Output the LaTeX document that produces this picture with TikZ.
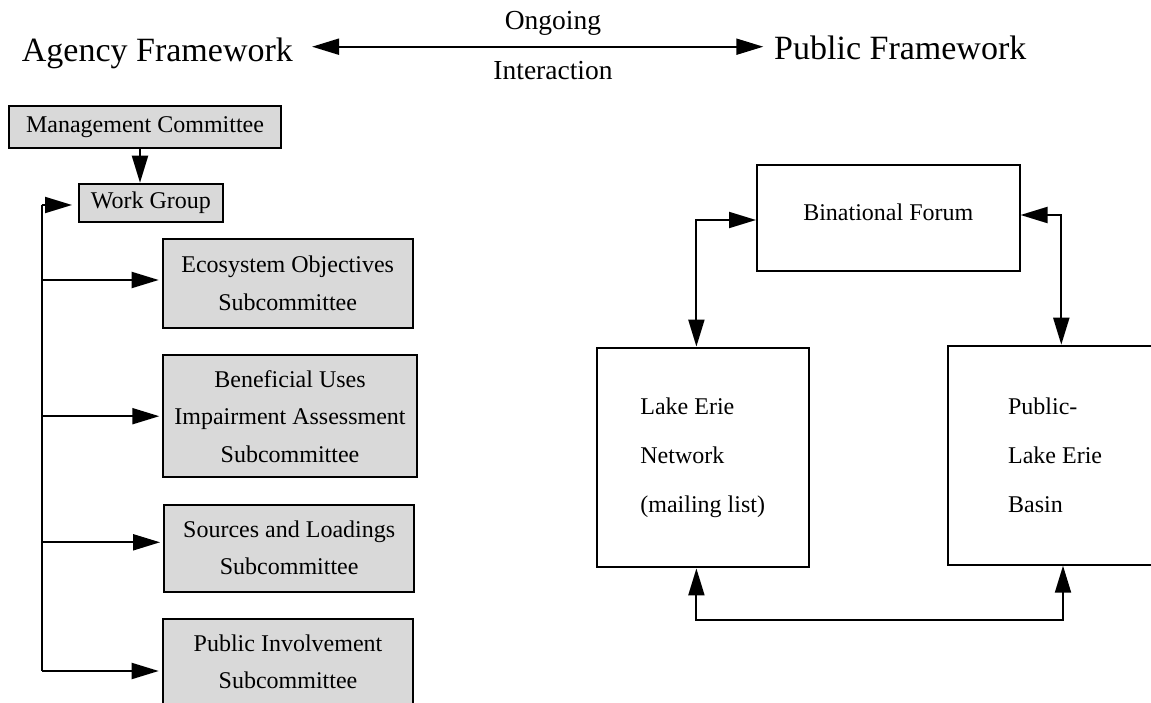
\documentclass[tikz,border=0pt]{standalone}
\usepackage{fontspec}
\setmainfont{Liberation Serif}
\usetikzlibrary{arrows.meta}
\tikzset{
  gbox/.style={draw, line width=2pt, fill=black!15, inner sep=0pt, align=center, font=\fontsize{24}{37.5}\selectfont},
  wbox/.style={draw, line width=2pt, fill=white, inner sep=0pt, align=left, font=\fontsize{24}{49}\selectfont},
  arr/.style={line width=2pt, -{Triangle[length=27pt,width=16pt]}},
  arrs/.style={line width=2pt, {Triangle[length=27pt,width=16pt]}-{Triangle[length=27pt,width=16pt]}},
  ttl/.style={inner sep=0pt, font=\fontsize{34}{40}\selectfont},
  lbl/.style={inner sep=0pt, font=\fontsize{27.5}{33}\selectfont}
}
\begin{document}
\begin{tikzpicture}[x=1pt,y=-1pt]
\clip (0,0) rectangle (1151,703);
\fill[white] (0,0) rectangle (1151,703);

% titles
\node[ttl, anchor=base west] (agency) at (21.7,61.7) {Agency Framework};
\node[ttl, anchor=base west] (public) at (774,60) {Public Framework};
\node[lbl, anchor=base] (ongoing) at (553,30) {Ongoing};
\node[lbl, anchor=base] (interaction) at (553,80) {Interaction};
\draw[arrs] ([xshift=19pt,yshift=15pt]agency.base east) -- ([xshift=-10.7pt,yshift=13.3pt]public.base west);

% agency column
\node[gbox, minimum width=272pt, minimum height=42pt] (mc) at (145,127.5) {Management Committee};
\node[gbox, minimum width=143.7pt, minimum height=38.5pt] (wg) at (150.85,203) {Work Group};
\node[gbox, minimum width=250pt, minimum height=88pt] (eco) at (287.7,283.5) {Ecosystem Objectives\\Subcommittee};
\node[gbox, minimum width=253.4pt, minimum height=122pt] (ben) at (290,416.2) {Beneficial Uses\\Impairment Assessment\\Subcommittee};
\node[gbox, minimum width=250.3pt, minimum height=87pt] (src) at (289.2,548) {Sources and Loadings\\Subcommittee};
\node[gbox, minimum width=250.6pt, minimum height=87pt] (pi) at (288,662) {Public Involvement\\Subcommittee};

\draw[arr] ([xshift=-5pt]mc.south) -- ([xshift=-5pt]mc.south |- wg.north);

\coordinate (bt) at (41.7,205);
\coordinate (bb) at (41.7,671);
\draw[line width=2pt] (bt) -- (bb);
\draw[arr, shorten >=6pt] (bt) -- (bt -| wg.west);
\draw[arr, shorten >=3pt] ([yshift=3.5pt]eco.west -| bt) -- ([yshift=3.5pt]eco.west);
\draw[arr, shorten >=3pt] (ben.west -| bt) -- (ben.west);
\draw[arr, shorten >=3pt] ([yshift=5.7pt]src.west -| bt) -- ([yshift=5.7pt]src.west);
\draw[arr, shorten >=3pt] (bb) -- (bb -| pi.west);

% public column
\node[wbox, minimum width=262.5pt, minimum height=106pt, align=center, text depth=11pt] (bf) at (888.25,218) {Binational Forum};
\node[wbox, minimum width=212.2pt, minimum height=219.8pt] (le) at (702.7,457.5) {Lake Erie\\Network\\(mailing list)};
\node[wbox, minimum width=213.8pt, minimum height=219pt] (pub) at (1055.1,455.2) {Public-\\Lake Erie\\Basin};

\draw[arrs] ([xshift=-6.3pt]le.north) |- ([yshift=-2pt]bf.west);
\draw[arrs] ([yshift=3pt]bf.east) -| ([xshift=6.2pt]pub.north);
\coordinate (bl) at (696.4,620);
\draw[arrs] ([xshift=-6.3pt]le.south) -- (bl) -| ([xshift=7.9pt]pub.south);
\end{tikzpicture}
\end{document}
